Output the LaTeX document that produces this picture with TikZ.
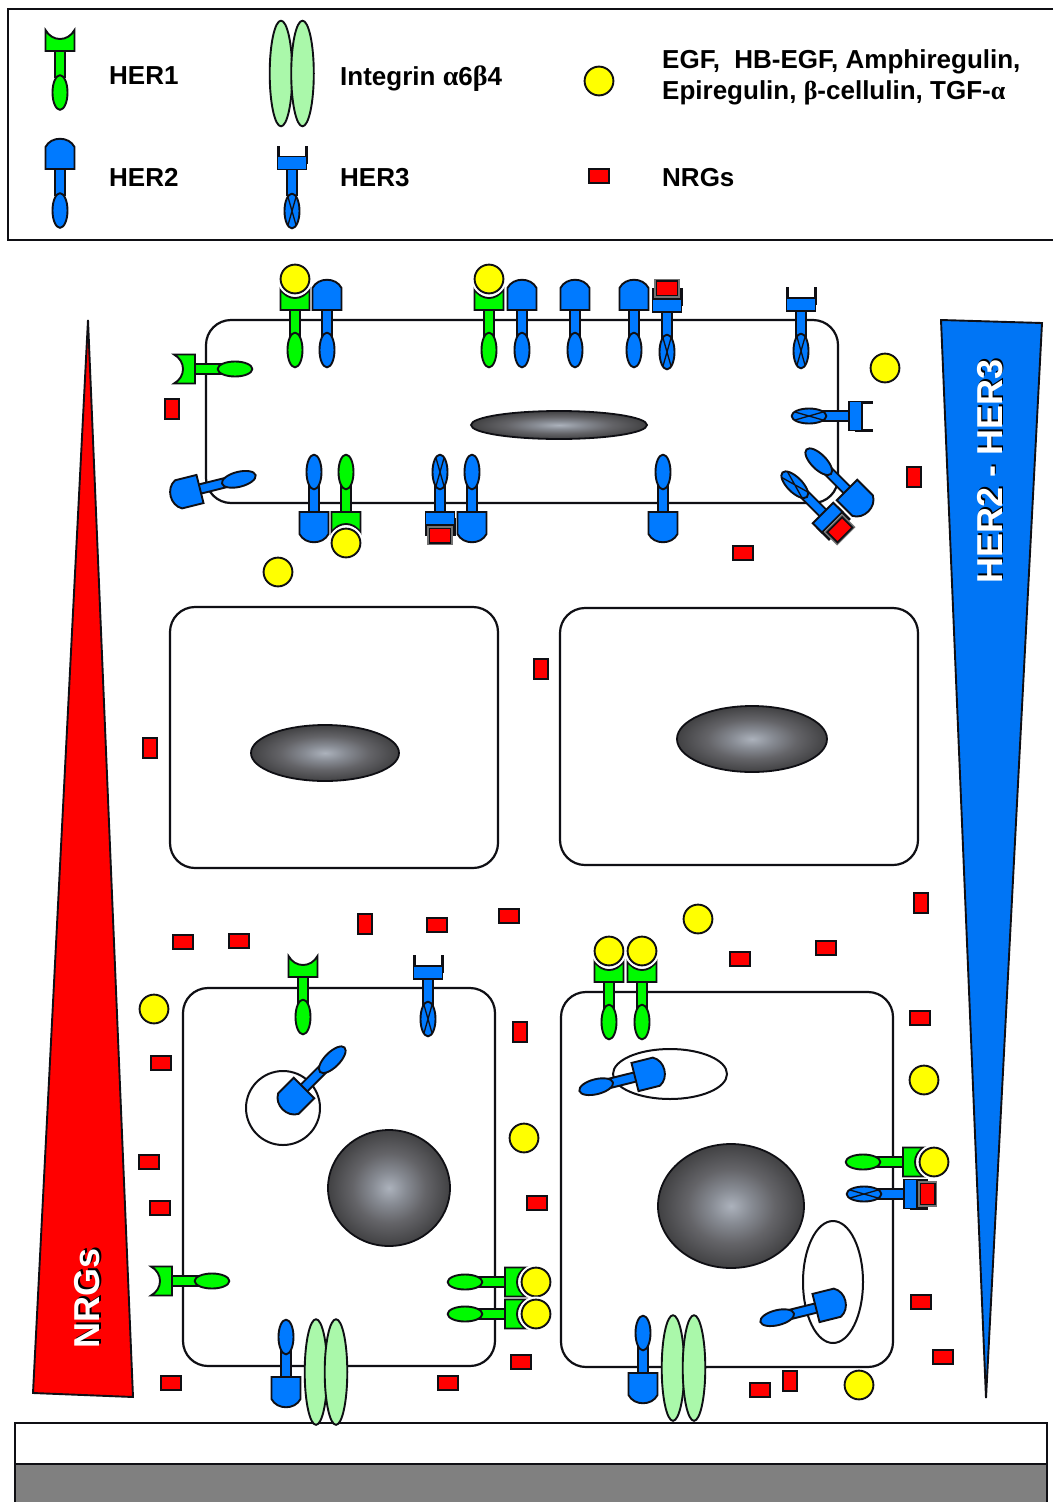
\documentclass[tikz,border=0pt]{standalone}
\usepackage{fontspec}
\setmainfont{Liberation Sans}
\newfontfamily\gk{Liberation Serif}
\definecolor{hgreen}{RGB}{0,250,0}
\definecolor{hblue}{RGB}{0,122,255}
\definecolor{hyellow}{RGB}{255,255,0}
\definecolor{hred}{RGB}{255,0,0}
\definecolor{hmint}{RGB}{170,248,170}
\definecolor{inkline}{RGB}{15,15,20}
\definecolor{nucA}{RGB}{172,178,188}
\definecolor{nucB}{RGB}{135,139,147}
\definecolor{nucC}{RGB}{100,100,104}
\definecolor{nucD}{RGB}{65,65,67}
\definecolor{nucE}{RGB}{48,48,50}
\pgfdeclareradialshading{nucleusfill}{\pgfpoint{0bp}{0bp}}{%
  color(0bp)=(nucA);
  color(7bp)=(nucB);
  color(15bp)=(nucC);
  color(25bp)=(nucD);
  color(35bp)=(nucE);
  color(50bp)=(nucE)}
\tikzset{
  ink/.style={draw=inkline,line width=1.9pt,line join=miter},
  membrane/.style={draw=inkline,line width=2.2pt,rounded corners=25pt},
  vesicle/.style={draw=inkline,line width=2pt,fill=white},
  nucleus/.style={draw=inkline,line width=1.8pt,shading=nucleusfill},
  ligand/.style={ink,fill=hyellow},
  nrgbox/.style={ink,fill=hred},
  label/.style={anchor=base west,inner sep=0pt,font=\fontsize{26}{30}\selectfont\bfseries},
  sidelabel/.style={inner sep=0pt,rotate=90,font=\fontsize{36}{40}\selectfont\bfseries},
}
\def\lobe{40}
% Receptors are drawn around the foot of the head: the head points to -y,
% the stem and the intracellular lobe to +y.
\newcommand{\stemlobe}[1]{%
  \fill[#1,ink] (-4.7,-1) rectangle (4.7,26);
  \fill[#1,ink] (0,\lobe) ellipse [x radius=7.5,y radius=17.3];}
\newcommand{\headone}{%
  \filldraw[hgreen,ink] (-14.5,0) -- (14.5,0) -- (14.5,-21)
    .. controls (8,-9) and (-8,-9) .. (-14.5,-21) -- cycle;}
\newcommand{\headtwo}{%
  \filldraw[hblue,ink] (-14.5,0) -- (14.5,0) -- (14.5,-22)
    .. controls (9,-33) and (-9,-33) .. (-14.5,-22) -- cycle;}
\newcommand{\headthree}{%
  \draw[inkline,line width=3pt] (-14,-6) -- (-14,-24) (14,-6) -- (14,-24);
  \filldraw[hblue,ink] (-14.5,0) rectangle (14.5,-13);}
\newcommand{\lobecross}{%
  \draw[inkline,line width=1.3pt] (-4,\lobe-14) -- (4,\lobe+14) (4,\lobe-14) -- (-4,\lobe+14);}
\newcommand{\herone}[3]{\begin{scope}[shift={(#1,#2)},rotate=#3]
  \stemlobe{hgreen}\headone\end{scope}}
\newcommand{\hertwo}[3]{\begin{scope}[shift={(#1,#2)},rotate=#3]
  \stemlobe{hblue}\headtwo\end{scope}}
\newcommand{\herthree}[3]{\begin{scope}[shift={(#1,#2)},rotate=#3]
  \stemlobe{hblue}\lobecross\headthree\end{scope}}
% EGF-family ligand seated in HER1
\newcommand{\heroneBound}[3]{\begin{scope}[shift={(#1,#2)},rotate=#3]
  \stemlobe{hgreen}\headone
  \fill[white] (0,-31) circle [radius=17.5];
  \path[ligand] (0,-31) circle [radius=14.4];\end{scope}}
% NRG seated in HER3
\newcommand{\herthreeBound}[3]{\begin{scope}[shift={(#1,#2)},rotate=#3]
  \stemlobe{hblue}\lobecross\headthree
  \fill[black!55] (-13,-33) rectangle (13,-14);
  \path[nrgbox] (-10.5,-31) rectangle (10.5,-16.5);\end{scope}}
\newcommand{\integrin}[3]{%
  \path[ink,fill=hmint] (#1,#3) ellipse [x radius=11.3,y radius=52.8];
  \path[ink,fill=hmint] (#2,#3) ellipse [x radius=11.3,y radius=52.8];}
\newcommand{\egf}[2]{\path[ligand] (#1,#2) circle [radius=14.4];}
\newcommand{\nrgh}[2]{\path[nrgbox] (#1-10.3,#2-7) rectangle (#1+10.3,#2+7);}
\newcommand{\nrgv}[2]{\path[nrgbox] (#1-7,#2-10.3) rectangle (#1+7,#2+10.3);}

\begin{document}
\begin{tikzpicture}[x=1pt,y=-1pt]
\useasboundingbox (0,0) rectangle (1053,1502);
\fill[white] (0,0) rectangle (1053,1502);

% Key
\draw[inkline,line width=2.2pt] (1053,9) -- (8,9) -- (8,240) -- (1053,240);
{\def\lobe{41.5}
\herone{60}{51}{0}
\hertwo{60}{169}{0}
\herthree{292}{169.5}{0}}
\integrin{281}{302.5}{73.5}
\egf{599}{81}
\nrgh{599}{176}
\node[label] (keyone) at (109,84) {HER1};
\node[label] (keytwo) at (109,186) {HER2};
\node[label] (keythree) at (340,186) {HER3};
\node[label] (keyint) at (340,85) {Integrin {\gk\fontsize{28}{30}\selectfont α}6{\gk\fontsize{28}{30}\selectfont β}4};
\node[label] (keyegf) at (662,68) {EGF,\ \ HB-EGF, Amphiregulin,};
\node[label] (keyepi) at (662,99) {Epiregulin, {\gk β}-cellulin, TGF-{\gk α}};
\node[label] (keynrg) at (662,186) {NRGs};

% Concentration wedges
\filldraw[hred,ink] (88,320) -- (133,1397) -- (33,1393) -- cycle;
\filldraw[hblue!96!black,ink] (941,320) -- (1042,323) -- (986,1398) -- cycle;
\node[sidelabel,black] (nrgshadow) at (89,1296.5) {NRGs};
\node[sidelabel,white] (nrgtext) at (87,1298) {NRGs};
\node[sidelabel,black] (hershadow) at (991.5,469.5) {HER2 - HER3};
\node[sidelabel,white] (hertext) at (990,471) {HER2 - HER3};

% Substratum
\draw[inkline,line width=2.2pt] (15,1464) -- (15,1423) -- (1047,1423) -- (1047,1464);
\filldraw[fill=black!50,draw=inkline,line width=2.2pt] (15,1464) rectangle (1047,1503);

% Cell outlines
\draw[membrane] (206,320) rectangle (838,503);
\draw[membrane] (170,607) rectangle (498,868);
\draw[membrane] (560,608) rectangle (918,865);
\draw[membrane] (183,988) rectangle (495,1366);
\draw[membrane] (561,992) rectangle (893,1367);

% Nuclei
\path[nucleus] (559,425) ellipse [x radius=88,y radius=14];
\path[nucleus] (325,753) ellipse [x radius=74,y radius=28];
\path[nucleus] (752,739) ellipse [x radius=75,y radius=33];
\path[nucleus] (389,1188) ellipse [x radius=61,y radius=58];
\path[nucleus] (731,1206) ellipse [x radius=73,y radius=62];

% Vesicles
\path[vesicle] (283,1108) circle [radius=37];
\path[vesicle] (670,1074) ellipse [x radius=57,y radius=25];
\path[vesicle] (833,1282) ellipse [x radius=30,y radius=61];

% Upper cell, apical side
\heroneBound{295}{310}{0}
\hertwo{327}{310}{0}
\heroneBound{489}{310}{0}
\hertwo{522}{310}{0}
\hertwo{575}{310}{0}
\hertwo{634}{310}{0}
\herthreeBound{667}{312}{0}
\herthree{801}{311}{0}
% Upper cell, lateral sides
\herone{195}{369}{90}
\hertwo{200}{489}{104}
\herthree{849}{416}{-90}
% Upper cell, basal side
\hertwo{314}{512}{180}
\heroneBound{346}{512}{180}
\herthreeBound{440}{512}{180}
\hertwo{472}{512}{180}
\hertwo{663}{512}{180}
% Heterodimer at the corner of the upper cell
\draw[white,line width=3.5pt] (836,480) arc [start angle=0,end angle=70,x radius=22,y radius=-22];
\hertwo{847}{490}{-135}
\herthreeBound{823}{513}{-135}

% Lower left cell
\herone{303}{977}{0}
\herthree{428}{979}{0}
\hertwo{304}{1088}{135}
\herone{172}{1281}{90}
\heroneBound{505}{1282}{-90}
\heroneBound{505}{1314}{-90}
\hertwo{286}{1377}{180}
\integrin{316}{336}{1372}

% Lower right cell
\heroneBound{609}{982}{0}
\heroneBound{642}{982}{0}
\hertwo{635}{1077}{-76}
\hertwo{816}{1308}{-76}
\heroneBound{903}{1162}{-90}
\herthreeBound{904}{1194}{-90}
\hertwo{643}{1373}{180}
\integrin{673}{694}{1368}

% Free EGF-family ligands
\egf{278}{572}
\egf{885}{368}
\egf{154}{1009}
\egf{698}{919}
\egf{524}{1138}
\egf{924}{1080}
\egf{859}{1385}

% Free NRGs
\nrgv{172}{409}
\nrgv{914}{477}
\nrgh{743}{553}
\nrgv{541}{669}
\nrgv{150}{748}
\nrgh{183}{942}
\nrgh{239}{941}
\nrgv{365}{924}
\nrgh{437}{925}
\nrgh{509}{916}
\nrgv{921}{903}
\nrgh{740}{959}
\nrgh{826}{948}
\nrgv{520}{1032}
\nrgh{161}{1063}
\nrgh{149}{1162}
\nrgh{160}{1208}
\nrgh{920}{1018}
\nrgh{537}{1203}
\nrgh{921}{1302}
\nrgh{521}{1362}
\nrgh{448}{1383}
\nrgh{171}{1383}
\nrgh{760}{1390}
\nrgv{790}{1381}
\nrgh{943}{1357}
\end{tikzpicture}
\end{document}
